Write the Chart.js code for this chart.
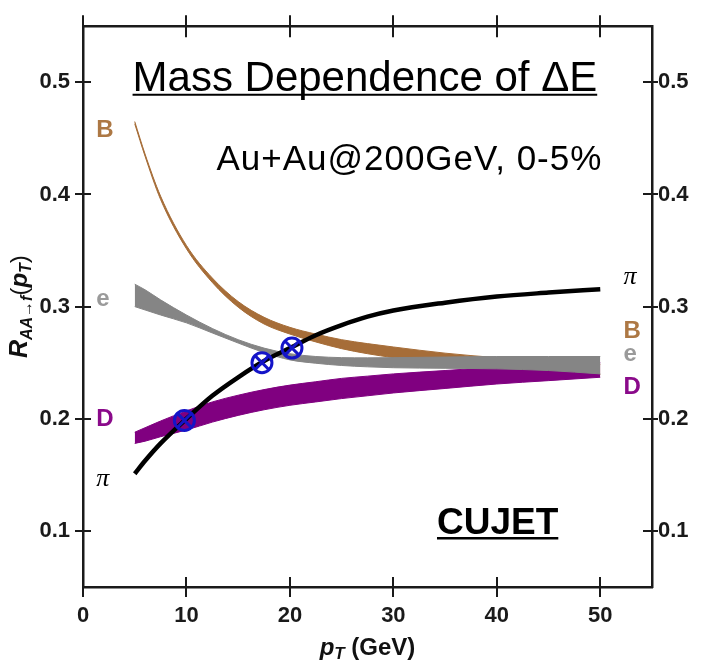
<!DOCTYPE html>
<html lang="en">
<head>
  <meta charset="UTF-8">
  <title>Mass Dependence of ΔE</title>
  <script src="https://cdn.jsdelivr.net/npm/chart.js"></script>
  <style>
    html, body { margin: 0; padding: 0; background: #fff; }
    #wrap { width: 702px; height: 662px; }
  </style>
</head>
<body>
<div id="wrap"><canvas id="chart"></canvas></div>
<script>
const ptGrid = [5, 6, 7.5, 10, 12.5, 15, 17.5, 20, 22.5, 25, 27.5, 30, 35, 40, 45, 50];

// B band (upper / lower edge)
const bUpper = [0.465, 0.436, 0.3985, 0.3545, 0.3255, 0.3045, 0.2905, 0.2815, 0.2755, 0.2705, 0.267, 0.264, 0.2585, 0.2545, 0.2515, 0.2485];
const bLower = [0.463, 0.434, 0.3955, 0.3515, 0.3215, 0.2995, 0.2845, 0.2755, 0.2685, 0.2625, 0.258, 0.2545, 0.2495, 0.2455, 0.2425, 0.2395];
// e band
const eUpper = [0.320, 0.315, 0.306, 0.2925, 0.2805, 0.2705, 0.263, 0.258, 0.2555, 0.2545, 0.2543, 0.2545, 0.255, 0.2555, 0.2555, 0.2555];
const eLower = [0.300, 0.297, 0.2925, 0.2855, 0.2765, 0.2675, 0.259, 0.2525, 0.2495, 0.2475, 0.2463, 0.2455, 0.245, 0.2445, 0.243, 0.240];
// D band
const dUpper = [0.188, 0.192, 0.198, 0.207, 0.215, 0.221, 0.226, 0.230, 0.233, 0.236, 0.238, 0.240, 0.243, 0.246, 0.248, 0.250];
const dLower = [0.178, 0.180, 0.184, 0.190, 0.197, 0.203, 0.208, 0.212, 0.215, 0.218, 0.2205, 0.223, 0.227, 0.231, 0.234, 0.237];
// pion curve
const piCurve = [0.151, 0.1625, 0.178, 0.200, 0.2205, 0.237, 0.2515, 0.263, 0.2745, 0.2835, 0.291, 0.2965, 0.3035, 0.309, 0.3125, 0.3155];

// crossing markers
const markerPt = [9.8, 17.3, 20.2];
const markerRaa = [0.1985, 0.250, 0.263];

const xTicks = [0, 10, 20, 30, 40, 50];
const yTicks = [0.1, 0.2, 0.3, 0.4, 0.5];

const FONT = '"Liberation Sans", Arial, sans-serif';
const axisColor = '#1a1a1a';
const brown = '#a66d38';
const gray = '#858585';
const purple = '#800080';
const blue = '#1414c8';

const pts = ys => ptGrid.map((x, i) => ({ x: x, y: ys[i] }));
const markerPts = markerPt.map((x, i) => ({ x: x, y: markerRaa[i] }));

// text placed in data coordinates
const curveLabels = [
  { text: 'B', x: 1.28, y: 0.451, color: '#ad7844', font: 'bold 24px ' + FONT },
  { text: 'e', x: 1.28, y: 0.3002, color: '#9a9a9a', font: 'bold 24px ' + FONT },
  { text: 'D', x: 1.28, y: 0.1937, color: '#8a0a8a', font: 'bold 24px ' + FONT },
  { text: 'π', x: 1.28, y: 0.140, color: '#000', font: 'italic 26px "Liberation Serif", serif' },
  { text: 'π', x: 52.25, y: 0.3204, color: '#000', font: 'italic 26px "Liberation Serif", serif' },
  { text: 'B', x: 52.25, y: 0.272, color: '#ad7844', font: 'bold 24px ' + FONT },
  { text: 'e', x: 52.25, y: 0.2515, color: '#9a9a9a', font: 'bold 24px ' + FONT },
  { text: 'D', x: 52.25, y: 0.2221, color: '#8a0a8a', font: 'bold 24px ' + FONT }
];

function drawRich(ctx, segs, cx, baseY) {
  let w = 0;
  segs.forEach(s => { ctx.font = s.font; s.w = ctx.measureText(s.text).width; w += s.w; });
  let px = cx - w / 2;
  segs.forEach(s => { ctx.font = s.font; ctx.fillText(s.text, px, baseY + (s.dy || 0)); px += s.w; });
}

const notes = {
  id: 'notes',
  afterDatasetsDraw(chart) {
    const { ctx, chartArea: a, scales: { x, y } } = chart;
    ctx.save();
    ctx.textBaseline = 'alphabetic';
    ctx.textAlign = 'left';

    curveLabels.forEach(l => {
      ctx.font = l.font;
      ctx.fillStyle = l.color;
      ctx.fillText(l.text, x.getPixelForValue(l.x), y.getPixelForValue(l.y));
    });

    ctx.fillStyle = '#000';
    ctx.strokeStyle = '#000';

    // title, underlined
    ctx.font = '42px ' + FONT;
    const t = 'Mass Dependence of ΔE';
    const tx = x.getPixelForValue(4.79), ty = y.getPixelForValue(0.4921);
    ctx.fillText(t, tx, ty);
    const tw = ctx.measureText(t).width;
    ctx.lineWidth = 2;
    ctx.beginPath(); ctx.moveTo(tx, ty + 3.5); ctx.lineTo(tx + tw, ty + 3.5); ctx.stroke();

    // collision system
    ctx.font = '35px ' + FONT;
    ctx.letterSpacing = '1px';
    ctx.textAlign = 'right';
    ctx.fillText('Au+Au@200GeV, 0-5%', x.getPixelForValue(50.2), y.getPixelForValue(0.4217));
    ctx.letterSpacing = '0px';

    // CUJET, underlined
    ctx.font = 'bold 37px ' + FONT;
    ctx.textAlign = 'center';
    const cx = x.getPixelForValue(40.08), cy = y.getPixelForValue(0.0974);
    ctx.fillText('CUJET', cx, cy);
    const cw = ctx.measureText('CUJET').width;
    ctx.lineWidth = 2.5;
    ctx.beginPath(); ctx.moveTo(cx - cw / 2, cy + 4.5); ctx.lineTo(cx + cw / 2, cy + 4.5); ctx.stroke();

    // axis titles
    ctx.textAlign = 'left';
    ctx.fillStyle = '#111';
    drawRich(ctx, [
      { text: 'p', font: 'italic bold 24px ' + FONT },
      { text: 'T', font: 'italic bold 17px ' + FONT, dy: 4 },
      { text: ' (GeV)', font: 'bold 24px ' + FONT }
    ], (a.left + a.right) / 2, a.bottom + 68);

    ctx.translate(a.left - 56, (a.top + a.bottom) / 2);
    ctx.rotate(-Math.PI / 2);
    drawRich(ctx, [
      { text: 'R', font: 'italic bold 25px ' + FONT },
      { text: 'AA→f', font: 'italic bold 16px ' + FONT, dy: 5 },
      { text: '(', font: '24px ' + FONT },
      { text: 'p', font: 'italic bold 24px ' + FONT },
      { text: 'T', font: 'italic bold 16px ' + FONT, dy: 4 },
      { text: ')', font: '24px ' + FONT }
    ], 0, 0);
    ctx.restore();
  }
};

// tick marks that cross the frame on all four sides
const crossTicks = {
  id: 'crossTicks',
  afterDraw(chart) {
    const { ctx, chartArea: a, scales } = chart;
    ctx.save();
    ctx.strokeStyle = axisColor;
    ctx.lineWidth = 2;
    ctx.beginPath();
    xTicks.forEach(v => {
      const px = Math.round(scales.x.getPixelForValue(v));
      ctx.moveTo(px, a.bottom - 10); ctx.lineTo(px, a.bottom + 10);
      ctx.moveTo(px, a.top - 11); ctx.lineTo(px, a.top + 11);
    });
    yTicks.forEach(v => {
      const py = Math.round(scales.y.getPixelForValue(v));
      ctx.moveTo(a.left - 8, py); ctx.lineTo(a.left + 8, py);
      ctx.moveTo(a.right - 9, py); ctx.lineTo(a.right + 6, py);
    });
    ctx.stroke();
    ctx.restore();
  }
};

const band = (ys, color, fill) => ({
  data: pts(ys), borderColor: color, backgroundColor: color, borderWidth: 1,
  pointRadius: 0, fill: fill, cubicInterpolationMode: 'monotone'
});

const tickFont = { size: 22, weight: 'bold', family: FONT };

new Chart(document.getElementById('chart'), {
  type: 'line',
  data: {
    datasets: [
      { data: markerPts, showLine: false, pointStyle: 'crossRot', pointRadius: 10, borderColor: blue, pointBorderWidth: 3, fill: false },
      { data: markerPts, showLine: false, pointStyle: 'circle', pointRadius: 10, borderColor: blue, pointBorderWidth: 3, pointBackgroundColor: 'rgba(0,0,0,0)', fill: false },
      { data: pts(piCurve), borderColor: '#000', borderWidth: 4.5, pointRadius: 0, fill: false, cubicInterpolationMode: 'monotone' },
      band(eUpper, gray, '+1'),
      band(eLower, gray, false),
      band(dUpper, purple, '+1'),
      band(dLower, purple, false),
      band(bUpper, brown, '+1'),
      band(bLower, brown, false)
    ]
  },
  options: {
    responsive: true,
    maintainAspectRatio: false,
    animation: false,
    events: [],
    layout: { padding: 0 },
    plugins: { legend: { display: false }, tooltip: { enabled: false } },
    scales: {
      x: {
        type: 'linear', position: 'bottom', min: 0, max: 55,
        afterBuildTicks: s => { s.ticks = xTicks.map(v => ({ value: v })); },
        afterFit: s => { s.height = 75; },
        grid: { display: false, drawTicks: false },
        border: { display: true, color: axisColor, width: 2.5 },
        ticks: { padding: 16, color: axisColor, font: tickFont, maxRotation: 0, autoSkip: false, callback: v => String(v) }
      },
      x2: {
        type: 'linear', position: 'top', min: 0, max: 55,
        afterFit: s => { s.height = 19; },
        grid: { display: false, drawTicks: false },
        border: { display: true, color: axisColor, width: 2.5 },
        ticks: { display: false }
      },
      y: {
        type: 'linear', position: 'left', min: 0.05, max: 0.55,
        afterBuildTicks: s => { s.ticks = yTicks.map(v => ({ value: v })); },
        afterFit: s => { s.width = 83; },
        grid: { display: false, drawTicks: false },
        border: { display: true, color: axisColor, width: 2.5 },
        ticks: { padding: 13, color: axisColor, font: tickFont, callback: v => v.toFixed(1) }
      },
      y2: {
        type: 'linear', position: 'right', min: 0.05, max: 0.55,
        afterBuildTicks: s => { s.ticks = yTicks.map(v => ({ value: v })); },
        afterFit: s => { s.width = 50; },
        grid: { display: false, drawTicks: false },
        border: { display: true, color: axisColor, width: 2.5 },
        ticks: { padding: 6, color: axisColor, font: tickFont, callback: v => v.toFixed(1) }
      }
    }
  },
  plugins: [notes, crossTicks]
});
</script>
</body>
</html>
